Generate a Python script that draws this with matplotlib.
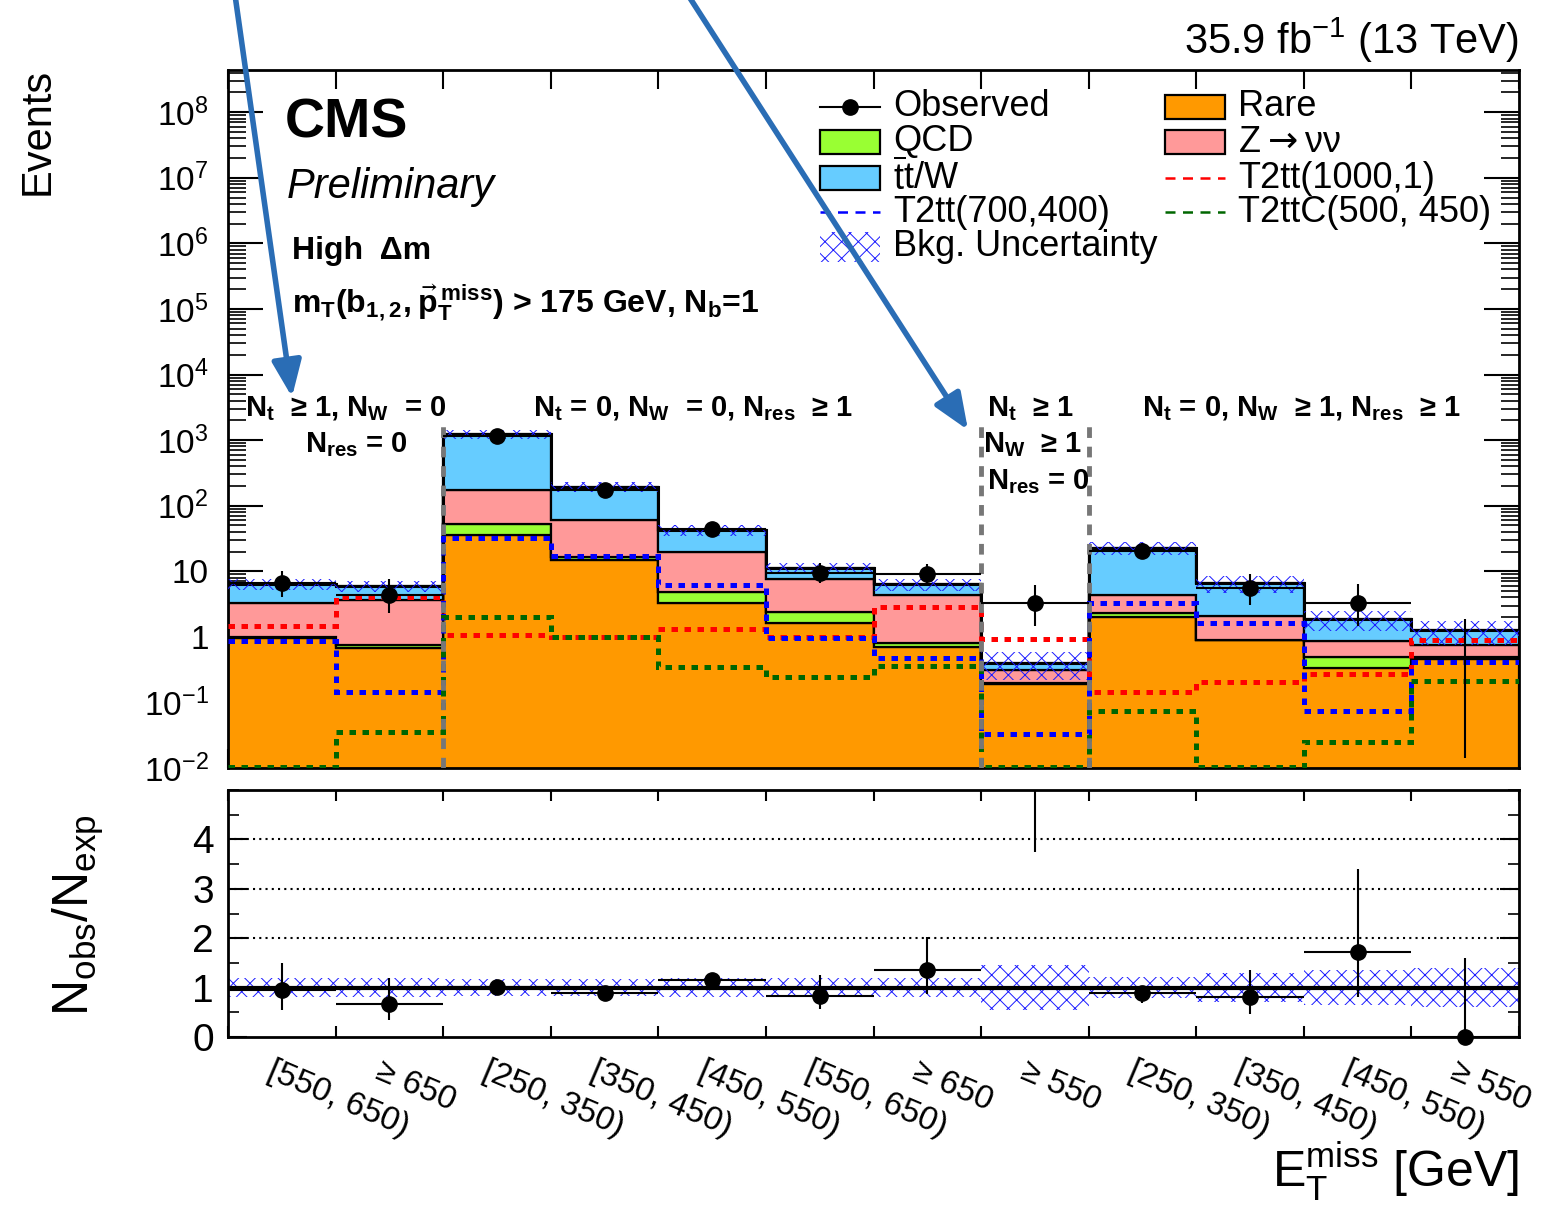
import matplotlib
matplotlib.use('Agg')
import matplotlib.pyplot as plt
import matplotlib.transforms as mtransforms
import numpy as np
from matplotlib.patches import Rectangle
from matplotlib.ticker import LogLocator, FuncFormatter, NullFormatter, MultipleLocator

plt.rcParams['font.family'] = ['Liberation Sans', 'DejaVu Sans']
plt.rcParams['mathtext.fontset'] = 'dejavusans'
plt.rcParams['mathtext.default'] = 'regular'
plt.rcParams['hatch.linewidth'] = 0.7

# --- data ---
bin_labels = ['[550, 650)', '≥ 650', '[250, 350)', '[350, 450)', '[450, 550)',
              '[550, 650)', '≥ 650', '≥ 550', '[250, 350)', '[350, 450)',
              '[450, 550)', '≥ 550']
rare = np.array([0.95, 0.68, 36, 14.9, 3.3, 1.6, 0.71, 0.19, 2.0, 0.88, 0.33, 0.46])
qcd = np.array([0.03, 0.07, 17, 1.8, 1.6, 0.8, 0.09, 0.01, 0.35, 0.02, 0.17, 0.04])
znunu = np.array([2.32, 2.95, 121, 44.3, 15.1, 5.2, 3.6, 0.11, 2.05, 1.2, 0.35, 0.26])
ttw = np.array([3.1, 2.3, 1066, 134, 23, 3.6, 1.9, 0.09, 18.1, 4.5, 1.01, 0.49])
bkg_unc = np.array([0.2, 0.2, 0.17, 0.17, 0.2, 0.2, 0.2, 0.45, 0.22, 0.3, 0.35, 0.4])

observed = np.array([6.6, 4.4, 1150, 175, 44, 9.5, 9.0, 3.3, 20.5, 5.5, 3.3, 0])
obs_lo = np.array([4.1, 2.3, 1110, 162, 37, 6.6, 6.2, 1.47, 16, 3.1, 1.47, 0])
obs_hi = np.array([10.2, 7.6, 1190, 190, 52, 13.5, 12.8, 6.2, 27, 9.1, 6.4, 1.84])

t2tt_1000_1 = np.array([1.44, 4.1, 1.05, 1.0, 1.3, 0.99, 2.9, 0.94, 0.146, 0.204, 0.27, 0.88])
t2tt_700_400 = np.array([0.87, 0.145, 32, 17, 6.1, 0.96, 0.48, 0.033, 3.3, 1.62, 0.074, 0.41])
t2ttc_500_450 = np.array([0, 0.036, 2.0, 0.98, 0.35, 0.24, 0.36, 0, 0.074, 0, 0.025, 0.21])

ratio = np.array([0.95, 0.66, 1.01, 0.90, 1.15, 0.84, 1.36, 8.3, 0.89, 0.81, 1.72, 0])
ratio_lo = np.array([0.55, 0.35, 0.97, 0.83, 0.98, 0.57, 0.88, 3.75, 0.69, 0.47, 0.81, 0])
ratio_hi = np.array([1.49, 1.20, 1.06, 0.97, 1.30, 1.25, 2.03, 12.0, 1.01, 1.36, 3.41, 1.59])

region_edges = [2, 7, 8]

# colours
c_rare = '#ff9900'
c_qcd = '#99ff33'
c_znn = '#ff9999'
c_ttw = '#66ccff'
c_arrow = '#2a6db5'
c_hatch = '#1a1aff'

W, H = 1559, 1209
fig = plt.figure(figsize=(W / 100, H / 100), dpi=100)

def axrect(l, t, r, b):
    return [l / W, 1 - b / H, (r - l) / W, (b - t) / H]

ax = fig.add_axes(axrect(228, 70, 1519, 768))
axr = fig.add_axes(axrect(228, 790, 1519, 1037))

nb = len(rare)
edges = np.arange(nb + 1)
centers = edges[:-1] + 0.5
ymin, ymax = 1e-2, 4.4e8

# stacked background
tops = np.cumsum([rare, qcd, znunu, ttw], axis=0)
bases = [np.full(nb, 1e-4)] + list(tops[:-1])
for top, base, col in zip(tops, bases, [c_rare, c_qcd, c_znn, c_ttw]):
    ax.stairs(top, edges, baseline=base, fill=True, facecolor=col,
              edgecolor='black', lw=1.6, zorder=2)
total = tops[-1]
ax.stairs(total, edges, color='black', lw=2.2, baseline=None, zorder=2.5)
ax.stairs(total * (1 + bkg_unc), edges, baseline=total * (1 - bkg_unc), fill=True,
          facecolor='none', edgecolor=c_hatch, hatch='xx', lw=0, zorder=3)

# signals
for sig, col in [(t2tt_1000_1, '#ff0000'), (t2tt_700_400, '#0000ff'),
                 (t2ttc_500_450, '#006600')]:
    ax.stairs(np.clip(sig, ymin * 1.05, None), edges, color=col, lw=3.6,
              linestyle=(0, (1.3, 1.3)), baseline=None, zorder=4)

# region separators
ax.vlines(region_edges, ymin, 1.9e3, colors='#777777', lw=3.5,
          linestyles=(0, (2.2, 1.8)), zorder=5)

# observed
m = observed > 0
ax.errorbar(centers[m], observed[m], yerr=[observed[m] - obs_lo[m], obs_hi[m] - observed[m]],
            xerr=0.5, fmt='o', color='black', ms=11, lw=1.5, capsize=0, zorder=6)
ax.vlines(centers[~m], ymin * 1.4, obs_hi[~m], colors='black', lw=1.5, zorder=6)

ax.set_yscale('log')
ax.set_xlim(0, nb)
ax.set_ylim(ymin, ymax)
ax.set_xticks(edges)
ax.tick_params(axis='x', which='major', direction='in', top=True, bottom=True,
               length=14, width=1.5, labelbottom=False)
ax.set_yticks([10.0 ** e for e in range(-2, 9)])
ax.yaxis.set_minor_locator(LogLocator(base=10, subs=np.arange(2, 10), numticks=20))
ax.yaxis.set_minor_formatter(NullFormatter())

def logfmt(v, pos):
    e = int(round(np.log10(v)))
    if e == 0:
        return '1'
    if e == 1:
        return '10'
    return '$10^{%d}$' % e

ax.yaxis.set_major_formatter(FuncFormatter(logfmt))
ax.tick_params(axis='y', which='major', direction='in', left=True, right=True,
               length=25, width=1.5, labelsize=24, pad=14)
ax.tick_params(axis='y', which='minor', direction='in', left=True, right=True,
               length=13, width=1.2)
for sp in ax.spines.values():
    sp.set_linewidth(2)

# ratio panel
axr.stairs(1 + bkg_unc, edges, baseline=1 - bkg_unc, fill=True, facecolor='none',
           edgecolor=c_hatch, hatch='xx', lw=0, zorder=2)
axr.axhline(1, color='black', lw=3, zorder=3)
for yv in [2, 3, 4]:
    axr.axhline(yv, color='black', lw=1.5, linestyle=(0, (1, 2)), zorder=1)
axr.errorbar(centers, ratio, yerr=[ratio - ratio_lo, ratio_hi - ratio], xerr=0.5,
             fmt='none', ecolor='black', lw=1.5, capsize=0, zorder=4)
inr = ratio <= 5
axr.plot(centers[inr], ratio[inr], 'o', color='black', ms=11, clip_on=False, zorder=5)
axr.set_xlim(0, nb)
axr.set_ylim(0, 5)
axr.set_xticks(edges)
axr.set_xticklabels([])
axr.set_yticks([0, 1, 2, 3, 4])
axr.yaxis.set_minor_locator(MultipleLocator(0.5))
axr.tick_params(axis='x', which='major', direction='in', top=True, bottom=True,
                length=8, width=1.5)
axr.tick_params(axis='y', which='major', direction='in', left=True, right=True,
                length=14, width=1.5, labelsize=28, pad=10)
axr.tick_params(axis='y', which='minor', direction='in', left=True, right=True,
                length=8, width=1.2)
for sp in axr.spines.values():
    sp.set_linewidth(2)

trans = mtransforms.blended_transform_factory(axr.transData, axr.transAxes)
for c, lab in zip(centers, bin_labels):
    axr.text(c - 0.06, -0.075, lab, transform=trans, rotation=-23, rotation_mode='anchor',
             ha='left', va='top', fontsize=24)

# axis titles
fig.text(1519 / W, 1 - 1188 / H, r'$E_T^{miss}$ [GeV]', ha='right', va='baseline', fontsize=36)
fig.text(78 / W, 1 - 915 / H, r'$N_{obs}/N_{exp}$', rotation=90, ha='center', va='center',
         fontsize=36)
fig.text(38 / W, 1 - 68 / H, 'Events', rotation=90, ha='center', va='top', fontsize=30)
fig.text(1519 / W, 1 - 54 / H, r'35.9 fb$^{-1}$ (13 TeV)', ha='right', va='baseline',
         fontsize=30)

# annotations inside the plot (pixel positions -> axes fraction)
def axx(px):
    return (px - 228) / 1291

def axy(py):
    return (768 - py) / 698

ax.text(axx(285), axy(137), 'CMS', fontsize=40, fontweight='bold', transform=ax.transAxes,
        va='baseline')
ax.text(axx(287), axy(198), 'Preliminary', fontsize=30, style='italic',
        transform=ax.transAxes, va='baseline')
ax.text(axx(292), axy(259), 'High  Δm', fontsize=23, fontweight='bold',
        transform=ax.transAxes, va='baseline')
ax.text(axx(292), axy(312), r'$m_T(b_{1,2},\vec{p}_T^{\,miss})$ > 175 GeV, $N_b$=1',
        fontsize=23, fontweight='bold', transform=ax.transAxes, va='baseline')

region_texts = [
    (245, 416, r'$N_t$  ≥ 1, $N_W$  = 0'),
    (305, 452, r'$N_{res}$ = 0'),
    (533, 416, r'$N_t$ = 0, $N_W$  = 0, $N_{res}$  ≥ 1'),
    (987, 416, r'$N_t$  ≥ 1'),
    (983, 452, r'$N_W$  ≥ 1'),
    (987, 489, r'$N_{res}$ = 0'),
    (1142, 416, r'$N_t$ = 0, $N_W$  ≥ 1, $N_{res}$  ≥ 1'),
]
for px, py, s in region_texts:
    ax.text(axx(px), axy(py), s, fontsize=21, fontweight='bold', transform=ax.transAxes,
            va='baseline', zorder=7)

# legend drawn by hand
leg_rows = [107, 142, 178, 212, 247]
col1 = [('obs', 'Observed'), (c_qcd, 'QCD'), (c_ttw, r'$\overline{t}$t/W'),
        ('#0000ff-', 'T2tt(700,400)'), ('hatch', 'Bkg. Uncertainty')]
col2 = [(c_rare, 'Rare'), (c_znn, r'Z$\mathrm{\rightarrow}$νν'), ('#ff0000-', 'T2tt(1000,1)'),
        ('#006600-', 'T2ttC(500, 450)')]
for (hx, tx, entries) in [(820, 893, col1), (1165, 1238, col2)]:
    for py, (kind, lab) in zip(leg_rows, entries):
        y = axy(py)
        x0, x1 = axx(hx), axx(hx + 60)
        bh = 24 / 698
        if kind == 'obs':
            ax.plot([x0, x1], [y, y], color='black', lw=1.5, transform=ax.transAxes)
            ax.plot([(x0 + x1) / 2], [y], 'o', color='black', ms=11, transform=ax.transAxes)
        elif kind == 'hatch':
            ax.add_patch(Rectangle((x0, y - bh / 2 - 0.005), x1 - x0, bh + 0.01,
                                   facecolor='none', edgecolor=c_hatch, hatch='xx', lw=0,
                                   transform=ax.transAxes))
        elif kind.endswith('-'):
            ax.plot([x0, x1], [y, y], color=kind[:-1], lw=1.8, linestyle=(0, (4, 3)),
                    transform=ax.transAxes)
        else:
            ax.add_patch(Rectangle((x0, y - bh / 2), x1 - x0, bh, facecolor=kind,
                                   edgecolor='black', lw=1.6, transform=ax.transAxes))
        ax.text(axx(tx), y, lab, fontsize=26, va='center', ha='left', transform=ax.transAxes)

# blue arrows from above the frame
for (xt, yt), (xh, yh) in [((235, -5), (292, 397)), ((688, -5), (968, 430))]:
    fig.add_artist(matplotlib.patches.FancyArrowPatch(
        (xt / W, 1 - yt / H), (xh / W, 1 - yh / H), transform=fig.transFigure,
        arrowstyle='-|>,head_width=9,head_length=22', color=c_arrow, lw=4,
        shrinkA=0, shrinkB=0, mutation_scale=1, zorder=10))

fig.savefig('out.png', dpi=100)
